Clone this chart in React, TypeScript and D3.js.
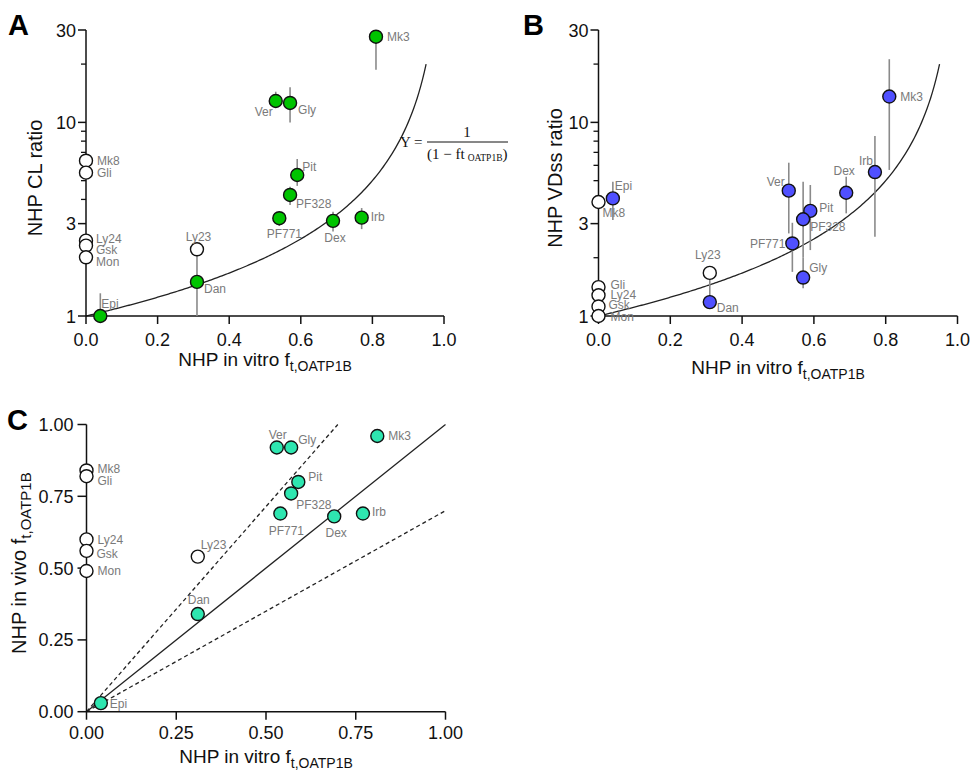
import React from "react";
import * as d3 from "d3";

const compounds = ["Mk3", "Ver", "Gly", "Pit", "PF328", "PF771", "Dex", "Irb", "Ly23", "Dan", "Epi", "Mk8", "Gli", "Ly24", "Gsk", "Mon"];
const inVitroFt = [0.81, 0.53, 0.57, 0.59, 0.57, 0.54, 0.69, 0.77, 0.31, 0.31, 0.04, 0, 0, 0, 0, 0];
const openCompounds = ["Ly23", "Mk8", "Gli", "Ly24", "Gsk", "Mon"];

const clRatio = [27.7, 12.9, 12.6, 5.35, 4.22, 3.2, 3.1, 3.22, 2.21, 1.5, 1.0, 6.34, 5.5, 2.45, 2.31, 2.01];
const clLow: (number | null)[] = [18.7, 12.3, 10.0, 4.7, 3.74, 2.92, 2.73, 2.81, null, 1.0, 1.0, null, null, null, null, null];
const clHigh: (number | null)[] = [27.7, 14.4, 15.2, 6.47, 4.65, 3.45, 3.45, 3.61, null, 2.1, 1.31, null, null, null, null, null];

const vdssRatio = [13.6, 4.44, 1.58, 3.49, 3.16, 2.37, 4.33, 5.54, 1.67, 1.18, 4.05, 3.88, 1.41, 1.28, 1.12, 1.0];
const vdssLow: (number | null)[] = [5.68, 2.67, 1.39, 2.19, 2.0, 1.69, 3.39, 2.57, null, 1.18, 3.13, null, null, null, null, null];
const vdssHigh: (number | null)[] = [21.2, 6.19, 2.0, 4.75, 4.94, 3.03, 5.24, 8.5, null, 1.67, 4.94, null, null, null, null, null];

const inVivoFt = [0.96, 0.92, 0.92, 0.8, 0.76, 0.69, 0.68, 0.69, 0.54, 0.34, 0.03, 0.84, 0.82, 0.6, 0.56, 0.49];

const logTicksMajor = [1, 3, 10, 30];
const logTicksMinor = [2, 4, 5, 6, 7, 8, 9, 20];
const xTicksAB = [0, 0.2, 0.4, 0.6, 0.8, 1.0];
const ticksC = [0, 0.25, 0.5, 0.75, 1.0];

type Place = [number, number, string];
const labelsA: Record<string, Place> = {
  Mk3: [11, 4, "start"], Ver: [-3, 15, "end"], Gly: [8, 11, "start"], Pit: [5, -4, "start"],
  PF328: [6, 13, "start"], PF771: [5, 20, "middle"], Dex: [2, 21, "middle"], Irb: [9, 3, "start"],
  Ly23: [1.5, -8, "middle"], Dan: [7, 11, "start"], Epi: [1, -8, "start"], Mk8: [11, 4, "start"],
  Gli: [11, 4, "start"], Ly24: [10, 2, "start"], Gsk: [10, 8, "start"], Mon: [10, 9, "start"],
};
const labelsB: Record<string, Place> = {
  Mk3: [11, 4, "start"], Irb: [-2, -7, "end"], Dex: [-2, -18, "middle"], Ver: [-4, -5, "end"],
  Pit: [9, 1, "start"], PF328: [7, 12, "start"], PF771: [-7, 5, "end"], Gly: [6, -6, "start"],
  Epi: [2, -8, "start"], Mk8: [4, 15, "start"], Ly23: [-2, -14, "middle"], Dan: [7, 10, "start"],
  Gli: [12, 2, "start"], Ly24: [12, 4, "start"], Gsk: [10, 3, "start"], Mon: [12, 5, "start"],
};
const labelsC: Record<string, Place> = {
  Mk3: [11, 4, "start"], Ver: [1, -8, "middle"], Gly: [7, -3, "start"], Pit: [10, -1, "start"],
  PF328: [5, 16, "start"], PF771: [6, 21, "middle"], Dex: [2, 21, "middle"], Irb: [9, 2, "start"],
  Ly23: [3, -8, "start"], Dan: [1, -10, "middle"], Epi: [9, 5, "start"], Mk8: [11, 3, "start"],
  Gli: [11, 9, "start"], Ly24: [11, 5, "start"], Gsk: [10, 7, "start"], Mon: [11, 4, "start"],
};

const FONT = "'Liberation Sans', Arial, Helvetica, sans-serif";
const LABEL_GRAY = "#7a7a7a";
const BAR_GRAY = "#8a8a8a";
const R = 6.5;

type Scale = (v: number) => number;

function Points({ x, y, yv, low, high, color, labels }: {
  x: Scale; y: Scale; yv: number[]; low?: (number | null)[]; high?: (number | null)[]; color: string; labels: Record<string, Place>;
}) {
  return (
    <g>
      {low && high && compounds.map((c, i) =>
        low[i] != null && high[i] != null ? (
          <line key={"e" + c} x1={x(inVitroFt[i])} x2={x(inVitroFt[i])} y1={y(low[i] as number)} y2={y(high[i] as number)}
            stroke={BAR_GRAY} strokeWidth={1.6} />
        ) : null)}
      {compounds.map((c, i) => (
        <circle key={"p" + c} cx={x(inVitroFt[i])} cy={y(yv[i])} r={R}
          fill={openCompounds.includes(c) ? "#ffffff" : color} stroke="#111" strokeWidth={1.4} />
      ))}
      {compounds.map((c, i) => {
        const p = labels[c];
        return (
          <text key={"l" + c} x={x(inVitroFt[i]) + p[0]} y={y(yv[i]) + p[1]} textAnchor={p[2] as any}
            fontSize={12} fill={LABEL_GRAY} fontFamily={FONT}>{c}</text>
        );
      })}
    </g>
  );
}

function XLabel({ cx, y, text }: { cx: number; y: number; text: string }) {
  return (
    <text x={cx} y={y} textAnchor="middle" fontSize={19} fontFamily={FONT} fill="#111">
      {text}<tspan fontSize={14} dy={5}>t,OATP1B</tspan>
    </text>
  );
}

function LogPanel({ x0, x1, y0, y1, yv, low, high, color, labels, ylabel, ylabelX, letter, letterX, xlabelY }: any) {
  const x = d3.scaleLinear().domain([0, 1]).range([x0, x1]);
  const y = d3.scaleLog().domain([1, 30]).range([y0, y1]);
  const curvePts = d3.range(0, 0.951, 0.005).map((v) => [v, 1 / (1 - v)] as [number, number]);
  const line = d3.line<[number, number]>().x((d) => x(d[0])).y((d) => y(d[1]));
  const fmt = d3.format(".1f");
  return (
    <g>
      <text x={letterX} y={35} fontSize={29} fontWeight="bold" fontFamily={FONT}>{letter}</text>
      <path d={line(curvePts) || ""} fill="none" stroke="#222" strokeWidth={1.3} />
      <line x1={x0} x2={x1} y1={y0} y2={y0} stroke="#111" strokeWidth={1.5} />
      <line x1={x0} x2={x0} y1={y0} y2={y1} stroke="#111" strokeWidth={1.5} />
      {xTicksAB.map((t) => (
        <g key={"xt" + t}>
          <line x1={x(t)} x2={x(t)} y1={y0} y2={y0 + 8} stroke="#111" strokeWidth={1.5} />
          <text x={x(t)} y={y0 + 30} textAnchor="middle" fontSize={18} fontFamily={FONT} fill="#111">{fmt(t)}</text>
        </g>
      ))}
      {logTicksMajor.map((t) => (
        <g key={"yt" + t}>
          <line x1={x0 - 8} x2={x0} y1={y(t)} y2={y(t)} stroke="#111" strokeWidth={1.5} />
          <text x={x0 - 10} y={y(t) + 6.5} textAnchor="end" fontSize={18} fontFamily={FONT} fill="#111">{t}</text>
        </g>
      ))}
      {logTicksMinor.map((t) => (
        <line key={"ym" + t} x1={x0 - 5} x2={x0} y1={y(t)} y2={y(t)} stroke="#111" strokeWidth={1.3} />
      ))}
      <text transform={`translate(${ylabelX},${(y0 + y1) / 2 + 5}) rotate(-90)`} textAnchor="middle" fontSize={20}
        fontFamily={FONT} fill="#111">{ylabel}</text>
      <XLabel cx={(x0 + x1) / 2} y={xlabelY} text="NHP in vitro f" />
      <Points x={x} y={y} yv={yv} low={low} high={high} color={color} labels={labels} />
    </g>
  );
}

function PanelC() {
  const x0 = 86.5, x1 = 445.5, y0 = 711.7, y1 = 424.5;
  const x = d3.scaleLinear().domain([0, 1]).range([x0, x1]);
  const y = d3.scaleLinear().domain([0, 1]).range([y0, y1]);
  const fmt = d3.format(".2f");
  return (
    <g>
      <text x={7} y={430} fontSize={29} fontWeight="bold" fontFamily={FONT}>C</text>
      <line x1={x(0)} y1={y(0)} x2={x(1)} y2={y(1)} stroke="#222" strokeWidth={1.3} />
      <line x1={x(0)} y1={y(0)} x2={x(0.7)} y2={y(1)} stroke="#222" strokeWidth={1.3} strokeDasharray="4,3" />
      <line x1={x(0)} y1={y(0)} x2={x(1)} y2={y(0.7)} stroke="#222" strokeWidth={1.3} strokeDasharray="4,3" />
      <line x1={x0} x2={x1} y1={y0} y2={y0} stroke="#111" strokeWidth={1.5} />
      <line x1={x0} x2={x0} y1={y0} y2={y1} stroke="#111" strokeWidth={1.5} />
      {ticksC.map((t) => (
        <g key={"cx" + t}>
          <line x1={x(t)} x2={x(t)} y1={y0} y2={y0 + 8} stroke="#111" strokeWidth={1.5} />
          <text x={x(t)} y={y0 + 27} textAnchor="middle" fontSize={18} fontFamily={FONT} fill="#111">{fmt(t)}</text>
          <line x1={x0 - 9} x2={x0} y1={y(t)} y2={y(t)} stroke="#111" strokeWidth={1.5} />
          <text x={x0 - 13} y={y(t) + 6.5} textAnchor="end" fontSize={18} fontFamily={FONT} fill="#111">{fmt(t)}</text>
        </g>
      ))}
      <text transform={`translate(26,${(y0 + y1) / 2 - 5}) rotate(-90)`} textAnchor="middle" fontSize={20} fontFamily={FONT} fill="#111">
        NHP in vivo f<tspan fontSize={15} dy={5}>t,OATP1B</tspan>
      </text>
      <XLabel cx={(x0 + x1) / 2} y={763} text="NHP in vitro f" />
      <Points x={x} y={y} yv={inVivoFt} color="#2ee6b0" labels={labelsC} />
    </g>
  );
}

function Formula() {
  const serif = "'Liberation Serif', 'Times New Roman', serif";
  return (
    <g fontFamily={serif} fill="#111">
      <text x={400} y={147} fontSize={15}>Y =</text>
      <text x={467} y={137} fontSize={15} textAnchor="middle">1</text>
      <line x1={427} x2={508} y1={142} y2={142} stroke="#111" strokeWidth={1} />
      <text x={427} y={159} fontSize={15}>
        (1 − ft<tspan fontSize={9.5} dx={3} dy={2}>OATP1B</tspan><tspan fontSize={15} dy={-2}>)</tspan>
      </text>
    </g>
  );
}

export default function App() {
  return (
    <svg width={972} height={776} style={{ position: "absolute", left: 0, top: 0, background: "#fff" }}>
      <rect width={972} height={776} fill="#fff" />
      <LogPanel x0={86} x1={444} y0={316} y1={30} yv={clRatio} low={clLow} high={clHigh} color="#00c400"
        labels={labelsA} ylabel="NHP CL ratio" ylabelX={42} letter="A" letterX={8} xlabelY={366} />
      <LogPanel x0={598.5} x1={957.5} y0={316} y1={30} yv={vdssRatio} low={vdssLow} high={vdssHigh} color="#5050ff"
        labels={labelsB} ylabel="NHP VDss ratio" ylabelX={562} letter="B" letterX={523} xlabelY={374} />
      <Formula />
      <PanelC />
    </svg>
  );
}
